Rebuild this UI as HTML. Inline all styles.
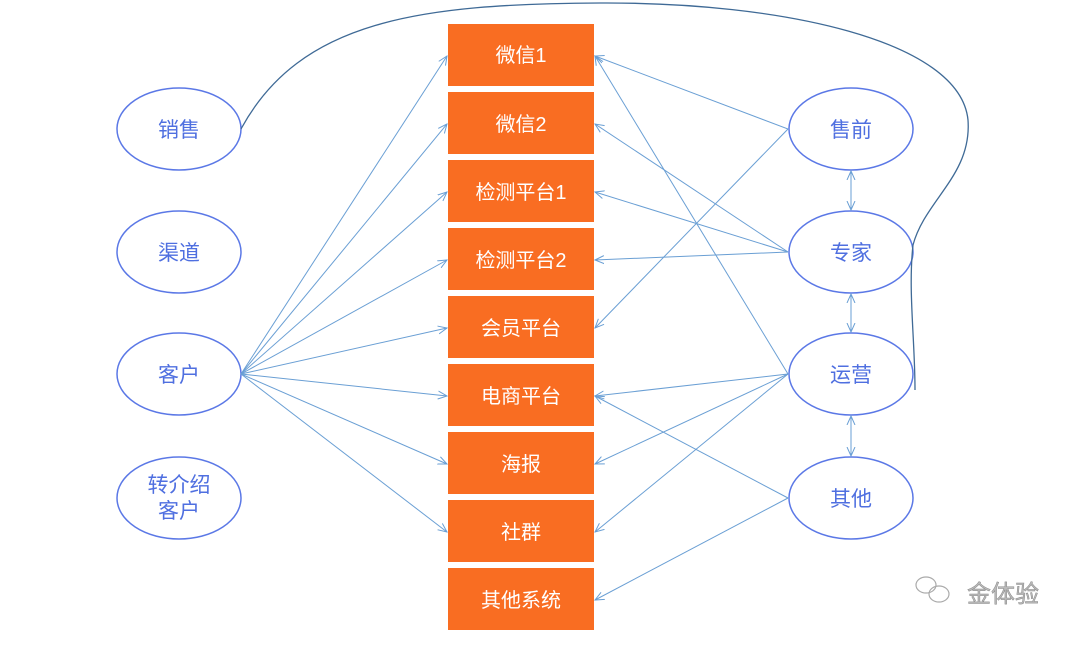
<!DOCTYPE html>
<html><head><meta charset="utf-8"><style>
body{margin:0;background:#fff;width:1080px;height:640px;overflow:hidden}
svg text{font-family:"Liberation Sans","Noto Sans CJK SC",sans-serif}
</style></head><body>
<svg width="1080" height="640" viewBox="0 0 1080 640" xmlns="http://www.w3.org/2000/svg">
<defs>
<marker id="a" markerWidth="10" markerHeight="10" refX="9" refY="5" orient="auto-start-reverse" markerUnits="userSpaceOnUse">
<path d="M0,1 L9,5 L0,9" fill="none" stroke="#6a9fd4" stroke-width="1"/>
</marker>
</defs>
<g fill="#f96d22">
<rect x="448" y="24" width="146" height="62"/>
<rect x="448" y="92" width="146" height="62"/>
<rect x="448" y="160" width="146" height="62"/>
<rect x="448" y="228" width="146" height="62"/>
<rect x="448" y="296" width="146" height="62"/>
<rect x="448" y="364" width="146" height="62"/>
<rect x="448" y="432" width="146" height="62"/>
<rect x="448" y="500" width="146" height="62"/>
<rect x="448" y="568" width="146" height="62"/>
</g>
<g fill="#fff" font-size="20" text-anchor="middle">
<text x="521" y="62">微信1</text>
<text x="521" y="131">微信2</text>
<text x="521" y="199">检测平台1</text>
<text x="521" y="267">检测平台2</text>
<text x="521" y="335">会员平台</text>
<text x="521" y="403">电商平台</text>
<text x="521" y="471">海报</text>
<text x="521" y="539">社群</text>
<text x="521" y="607">其他系统</text>
</g>
<g fill="none" stroke="#5b78e6" stroke-width="1.5">
<ellipse cx="179" cy="129" rx="62" ry="41"/>
<ellipse cx="179" cy="252" rx="62" ry="41"/>
<ellipse cx="179" cy="374" rx="62" ry="41"/>
<ellipse cx="179" cy="498" rx="62" ry="41"/>
<ellipse cx="851" cy="129" rx="62" ry="41"/>
<ellipse cx="851" cy="252" rx="62" ry="41"/>
<ellipse cx="851" cy="374" rx="62" ry="41"/>
<ellipse cx="851" cy="498" rx="62" ry="41"/>
</g>
<g fill="#4f6fe0" font-size="21" text-anchor="middle">
<text x="179" y="137">销售</text>
<text x="179" y="260">渠道</text>
<text x="179" y="382">客户</text>
<text x="179" y="492">转介绍</text>
<text x="179" y="518">客户</text>
<text x="851" y="137">售前</text>
<text x="851" y="260">专家</text>
<text x="851" y="382">运营</text>
<text x="851" y="506">其他</text>
</g>
<g stroke="#6a9fd4" stroke-width="1" marker-end="url(#a)">
<line x1="241" y1="374" x2="447" y2="56"/>
<line x1="241" y1="374" x2="447" y2="124"/>
<line x1="241" y1="374" x2="447" y2="192"/>
<line x1="241" y1="374" x2="447" y2="260"/>
<line x1="241" y1="374" x2="447" y2="328"/>
<line x1="241" y1="374" x2="447" y2="396"/>
<line x1="241" y1="374" x2="447" y2="464"/>
<line x1="241" y1="374" x2="447" y2="532"/>
<line x1="788" y1="129" x2="595" y2="56"/>
<line x1="788" y1="129" x2="595" y2="328"/>
<line x1="788" y1="252" x2="595" y2="124"/>
<line x1="788" y1="252" x2="595" y2="192"/>
<line x1="788" y1="252" x2="595" y2="260"/>
<line x1="788" y1="374" x2="595" y2="56"/>
<line x1="788" y1="374" x2="595" y2="396"/>
<line x1="788" y1="374" x2="595" y2="464"/>
<line x1="788" y1="374" x2="595" y2="532"/>
<line x1="788" y1="498" x2="595" y2="396"/>
<line x1="788" y1="498" x2="595" y2="600"/>
<line x1="851" y1="171" x2="851" y2="210" marker-start="url(#a)"/>
<line x1="851" y1="294" x2="851" y2="332" marker-start="url(#a)"/>
<line x1="851" y1="416" x2="851" y2="456" marker-start="url(#a)"/>
</g>
<path d="M241,129 C300,20 420,4 600,3 C780,2 960,40 968,120 C972,175 925,200 913,245 C908,290 915,340 915,390" fill="none" stroke="#3f6a96" stroke-width="1.3"/>
<g fill="none" stroke="#aaa" stroke-width="1.2">
<ellipse cx="926" cy="585" rx="10" ry="8"/>
<ellipse cx="939" cy="594" rx="10" ry="8"/>
</g>
<text x="967" y="602" font-size="24" fill="#bbb" stroke="#888" stroke-width="0.5">金体验</text>
</svg>
</body></html>
